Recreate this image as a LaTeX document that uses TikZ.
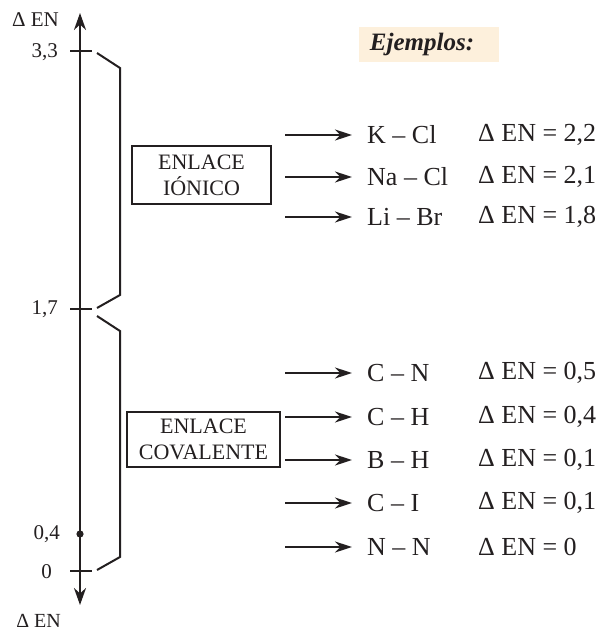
\documentclass[tikz,border=0pt]{standalone}
\usepackage{fontspec}
\setmainfont{Liberation Serif}
\usetikzlibrary{arrows.meta}
\definecolor{cream}{HTML}{FDF0DC}
\definecolor{ink}{HTML}{231F20}
\begin{document}
\begin{tikzpicture}[x=1pt,y=-1pt,
  axisline/.style={line width=2.4pt, draw=ink},
  braceline/.style={line width=2pt, draw=ink, line join=miter},
  tickline/.style={line width=2.2pt, draw=ink},
  lbl/.style={font=\fontsize{21}{24}\selectfont, anchor=base east, inner sep=0pt, text=ink},
  bondbox/.style={draw=ink, line width=1.6pt, font=\fontsize{22}{26}\selectfont, align=center, inner sep=0pt, text=ink},
  mol/.style={font=\fontsize{26}{30}\selectfont, anchor=west, inner sep=0pt, text=ink},
  arr/.style={line width=2.2pt, draw=ink, -{Stealth[length=17pt,width=11pt]}},
]
\useasboundingbox (0,0) rectangle (604,634);

% axis
\coordinate (ttop) at (80,13);
\coordinate (tbot) at (80,605);
\draw[axisline, {Stealth[length=17pt,width=12pt]}-{Stealth[length=17pt,width=12pt]}] (ttop) -- (tbot);

\node[lbl] (entop) at (59,27) {Δ EN};
\node[lbl, font=\fontsize{20}{22}\selectfont] (enbot) at (61,627) {Δ EN};

\draw[tickline] (70,51) -- (92,51);
\draw[tickline] (70,309) -- (92,309);
\draw[tickline] (70,571) -- (92,571);
\fill[ink] (80,534) circle (3.6);

\node[lbl] (l33) at (58,57) {3,3};
\node[lbl] (l17) at (58,314) {1,7};
\node[lbl] (l04) at (60,539) {0,4};
\node[lbl] (l00) at (52,578) {0};

% braces
\draw[braceline] (97,53) -- (120,68) -- (120,295) -- (97,308);
\draw[braceline] (97,316) -- (120,331) -- (120,557) -- (97,570);

% boxes
\node[bondbox, minimum width=139pt, minimum height=58pt] (ion) at (201.5,175) {ENLACE\\IÓNICO};
\node[bondbox, minimum width=153pt, minimum height=55pt] (cov) at (203.5,439.5) {ENLACE\\COVALENTE};

% Ejemplos
\fill[cream] (359,27) rectangle (499,62);
\node[font=\fontsize{25}{28}\selectfont\bfseries\itshape, text=ink, inner sep=0pt] (ej) at (422,44.5) {Ejemplos:};

% examples
\foreach \y/\m/\v [count=\i] in {135/K – Cl/2{,}2, 177/Na – Cl/2{,}1, 217/Li – Br/1{,}8,
  373/C – N/0{,}5, 417/C – H/0{,}4, 460/B – H/0{,}1, 503/C – I/0{,}1, 547/N – N/0}{
  \coordinate (s\i) at (285,\y);
  \node[mol] (m\i) at (367,\y) {\m};
  \node[mol] (v\i) at (478,\y) {Δ EN = \v};
  \draw[arr] (s\i) -- ([xshift=-15pt]m\i.west);
}
\end{tikzpicture}
\end{document}
